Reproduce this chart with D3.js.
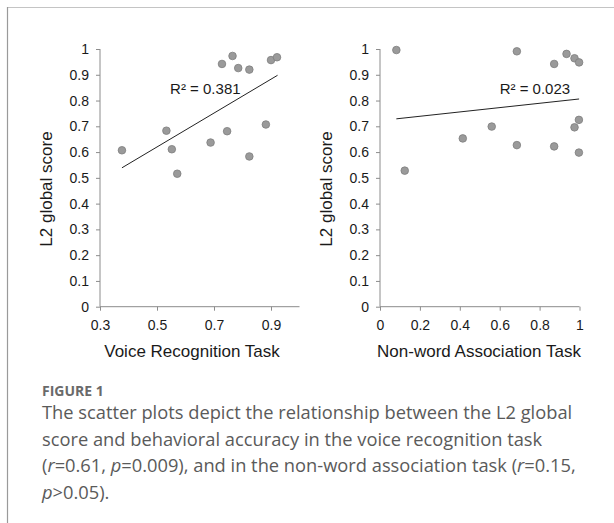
<!DOCTYPE html>
<html>
<head>
<meta charset="utf-8">
<script src="https://cdn.jsdelivr.net/npm/d3@7"></script>
<style>
  html, body { margin: 0; padding: 0; background: #fff; }
  svg { display: block; }
</style>
</head>
<body>
<svg id="fig" width="614" height="523"></svg>
<script>
// ---- data ----
const voiceX = [0.377, 0.533, 0.552, 0.571, 0.688, 0.728, 0.746, 0.765, 0.785, 0.824, 0.824, 0.882, 0.900, 0.921];
const voiceY = [0.607, 0.683, 0.611, 0.516, 0.637, 0.942, 0.681, 0.973, 0.926, 0.920, 0.583, 0.707, 0.957, 0.968];
const voiceTrendX = [0.377, 0.923];
const voiceTrendY = [0.539, 0.898];
const voiceR2 = "R² = 0.381";

const nonwordX = [0.082, 0.124, 0.415, 0.560, 0.686, 0.686, 0.873, 0.873, 0.935, 0.975, 0.998, 0.975, 0.997, 0.997];
const nonwordY = [0.996, 0.528, 0.653, 0.699, 0.991, 0.627, 0.942, 0.622, 0.981, 0.964, 0.948, 0.696, 0.725, 0.598];
const nonwordTrendX = [0.082, 0.998];
const nonwordTrendY = [0.729, 0.806];
const nonwordR2 = "R² = 0.023";

const yTicks = [0, 0.1, 0.2, 0.3, 0.4, 0.5, 0.6, 0.7, 0.8, 0.9, 1];
const voiceXTicks = [0.3, 0.5, 0.7, 0.9];
const nonwordXTicks = [0, 0.2, 0.4, 0.6, 0.8, 1];
const yTitle = "L2 global score";
const voiceTitle = "Voice Recognition Task";
const nonwordTitle = "Non-word Association Task";

const figLabel = "FIGURE 1";
const captionLines = [
  [["The scatter plots depict the relationship between the L2 global", false]],
  [["score and behavioral accuracy in the voice recognition task", false]],
  [["(", false], ["r", true], ["=0.61, ", false], ["p", true], ["=0.009), and in the non-word association task (", false], ["r", true], ["=0.15,", false]],
  [["p", true], [">0.05).", false]]
];

// ---- drawing ----
const svg = d3.select("#fig");
const chartFont = "'Liberation Sans', Arial, sans-serif";

// frame lines
svg.append("line").attr("x1", 7).attr("y1", 7.5).attr("x2", 614).attr("y2", 7.5)
  .attr("stroke", "#c4c4c4").attr("stroke-width", 1.2);
svg.append("line").attr("x1", 7.5).attr("y1", 7).attr("x2", 7.5).attr("y2", 523)
  .attr("stroke", "#9a9a9a").attr("stroke-width", 1.2);

const y = d3.scaleLinear().domain([0, 1]).range([306.7, 49]);

function panel(cfg) {
  const g = svg.append("g");
  const x = d3.scaleLinear().domain(cfg.xDomain).range(cfg.xRange);

  const ya = g.append("g").attr("transform", `translate(${cfg.xRange[0]},0)`)
    .call(d3.axisLeft(y).tickValues(yTicks).tickSize(4).tickPadding(7)
      .tickFormat(d => d3.format("~g")(d)));
  const xa = g.append("g").attr("transform", `translate(0,${y(0)})`)
    .call(d3.axisBottom(x).tickValues(cfg.xTicks).tickSize(4).tickPadding(9)
      .tickFormat(d => d3.format("~g")(d)));
  [ya, xa].forEach(a => {
    a.select(".domain").attr("stroke", "#8c8c8c");
    a.selectAll(".tick line").attr("stroke", "#8c8c8c");
    a.selectAll(".tick text").attr("fill", "#1a1a1a")
      .style("font-family", chartFont).style("font-size", "14px");
  });
  xa.select(".domain").attr("d", `M${cfg.xRange[0]},0H${cfg.xRange[1]}`);
  ya.select(".domain").attr("d", `M0,${y(0)}V${y(1)}`);

  g.append("line")
    .attr("x1", x(cfg.trendX[0])).attr("y1", y(cfg.trendY[0]))
    .attr("x2", x(cfg.trendX[1])).attr("y2", y(cfg.trendY[1]))
    .attr("stroke", "#222").attr("stroke-width", 1);

  g.selectAll("circle.pt").data(cfg.xs.map((v, i) => [v, cfg.ys[i]]))
    .join("circle").attr("class", "pt")
    .attr("cx", d => x(d[0])).attr("cy", d => y(d[1])).attr("r", 3.8)
    .attr("fill", "#9a9a9a").attr("stroke", "#7d7d7d").attr("stroke-width", 0.8);

  g.append("text").attr("x", x(cfg.r2Pos[0])).attr("y", y(cfg.r2Pos[1]))
    .attr("fill", "#1a1a1a").style("font-family", chartFont).style("font-size", "15px")
    .text(cfg.r2);

  g.append("text").attr("transform", `translate(${cfg.xRange[0] - 48},${189}) rotate(-90)`)
    .attr("text-anchor", "middle").attr("fill", "#1a1a1a")
    .style("font-family", chartFont).style("font-size", "17px").text(yTitle);
  g.append("text").attr("x", cfg.titleX).attr("y", 357)
    .attr("text-anchor", "middle").attr("fill", "#1a1a1a")
    .style("font-family", chartFont).style("font-size", "17px").text(cfg.title);
}

panel({
  xDomain: [0.3, 1.0], xRange: [100, 299.5], xTicks: voiceXTicks,
  xs: voiceX, ys: voiceY, trendX: voiceTrendX, trendY: voiceTrendY,
  r2: voiceR2, r2Pos: [0.546, 0.825], title: voiceTitle, titleX: 192
});
panel({
  xDomain: [0, 1], xRange: [380, 579.5], xTicks: nonwordXTicks,
  xs: nonwordX, ys: nonwordY, trendX: nonwordTrendX, trendY: nonwordTrendY,
  r2: nonwordR2, r2Pos: [0.60, 0.825], title: nonwordTitle, titleX: 479
});

// caption
const capFont = "'Open Sans', 'Noto Sans', sans-serif";
svg.append("text").attr("x", 42).attr("y", 396)
  .attr("fill", "#6a6a6a").style("font-family", capFont).style("font-weight", "700")
  .style("font-size", "14px").text(figLabel);

const cap = svg.append("text").attr("fill", "#5a5a5a")
  .style("font-family", capFont).style("font-size", "18.3px");
captionLines.forEach((parts, i) => {
  const line = cap.append("tspan").attr("x", 42).attr("y", 419 + i * 26.6);
  parts.forEach(([t, it]) => {
    line.append("tspan").style("font-style", it ? "italic" : "normal").text(t);
  });
});
</script>
</body>
</html>
